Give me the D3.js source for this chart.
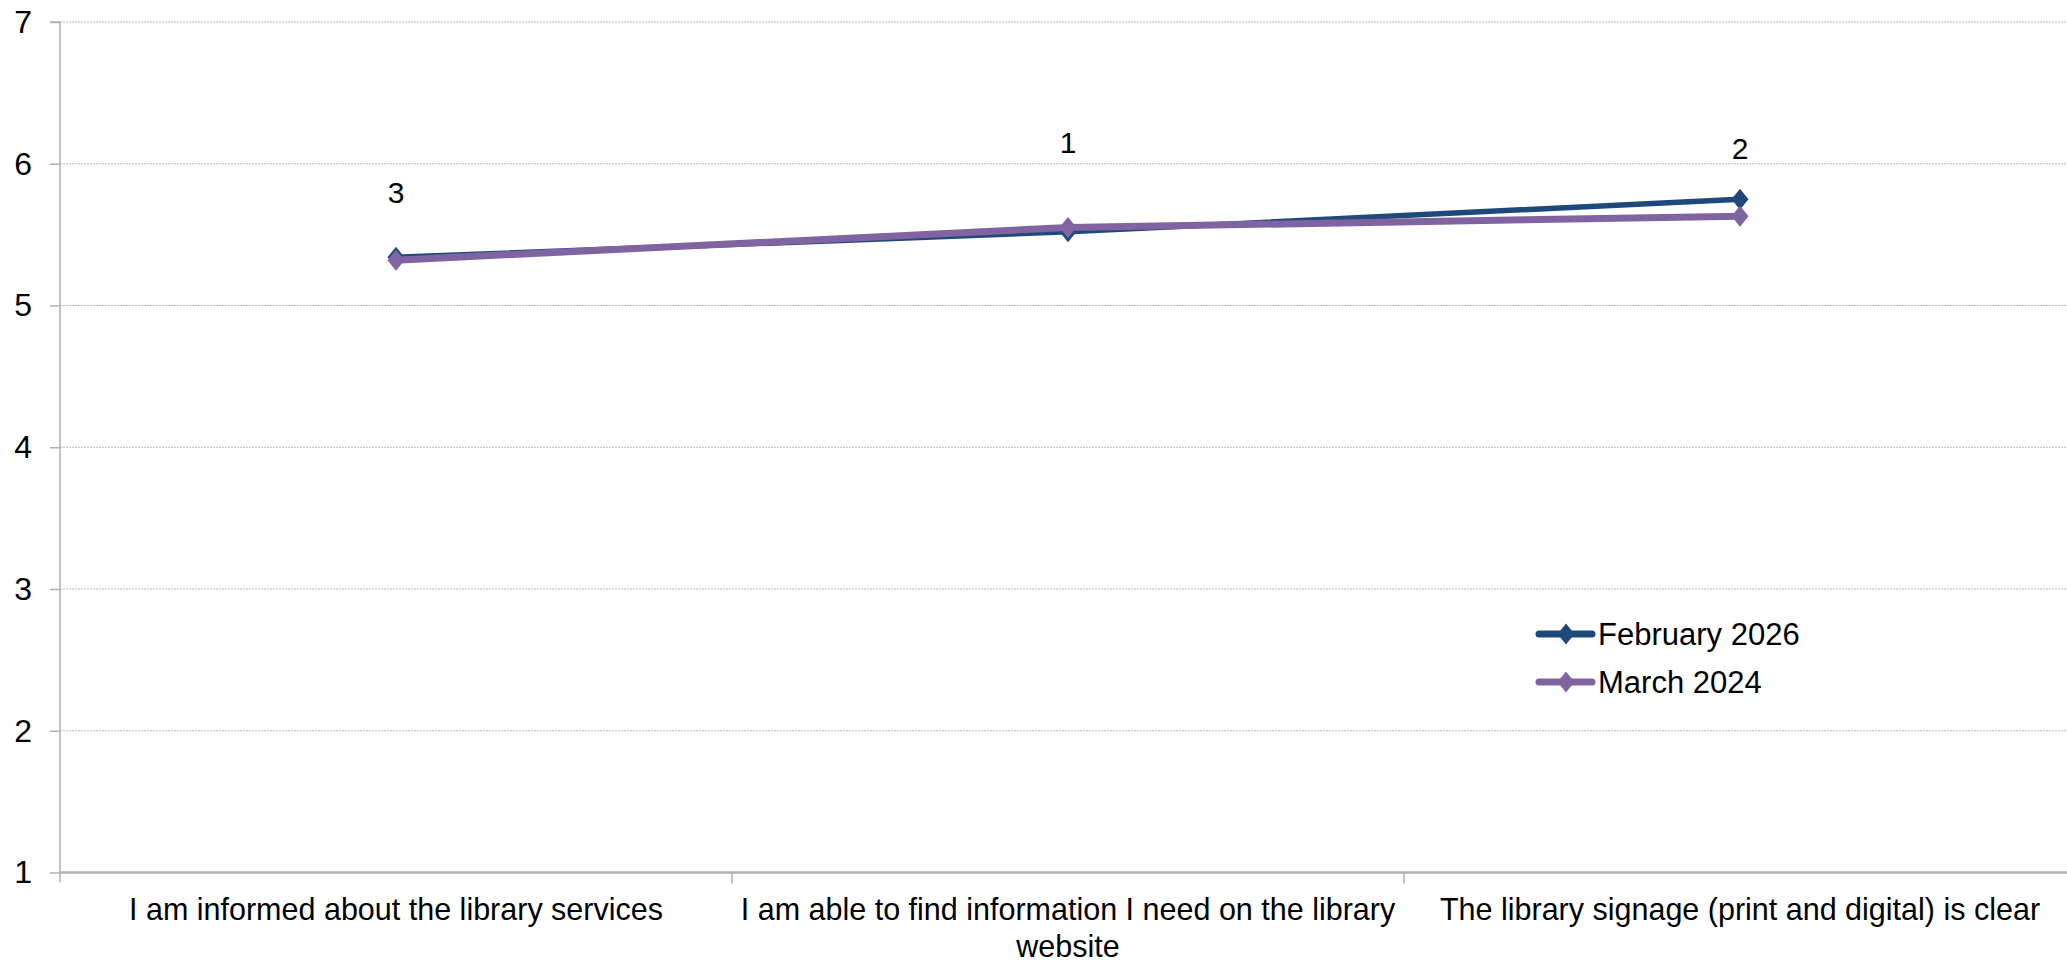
<!DOCTYPE html>
<html>
<head>
<meta charset="utf-8">
<script src="https://cdn.jsdelivr.net/npm/d3@7"></script>
<style>
  html, body { margin: 0; padding: 0; background: #fff; }
  svg { display: block; font-family: "Liberation Sans", Arial, sans-serif; }
</style>
</head>
<body>
<svg id="chart" width="2067" height="962"></svg>
<script>
// ---- Data ----
const categories = [
  "I am informed about the library services",
  "I am able to find information I need on the library website",
  "The library signage (print and digital) is clear"
];
const seriesNames = ["February 2026", "March 2024"];
const feb2026 = [5.34, 5.52, 5.75];
const mar2024 = [5.32, 5.55, 5.63];
const rankLabels = ["3", "1", "2"];
const rankLabelPos = [5.80, 6.15, 6.11];
const yTicks = [1, 2, 3, 4, 5, 6, 7];

const colors = ["#1F497D", "#8064A2"];
const seriesValues = [feb2026, mar2024];

(function () {
// ---- Layout ----
const svg = d3.select("#chart");
const pLeft = 60, pRight = 2076, pTop = 22, pBottom = 872.5;

const x = d3.scaleBand().domain(categories).range([pLeft, pRight]).padding(0);
const y = d3.scaleLinear().domain([1, 7]).range([pBottom, pTop]);

// gridlines
svg.append("g")
  .selectAll("line")
  .data(yTicks.filter(d => d !== 1))
  .join("line")
  .attr("x1", pLeft).attr("x2", 2067)
  .attr("y1", d => y(d)).attr("y2", d => y(d))
  .attr("stroke", "#b8b8b8")
  .attr("stroke-width", 1)
  .attr("stroke-dasharray", "2,1");

// y axis
const yAxis = d3.axisLeft(y).tickValues(yTicks).tickSize(10).tickPadding(18).tickFormat(d3.format("d"));
const gy = svg.append("g").attr("transform", `translate(${pLeft},0)`).call(yAxis);
gy.select(".domain").attr("stroke", "#b0b0b0").attr("stroke-width", 1.5)
  .attr("d", `M-10,${pTop}H0V${pBottom + 10}`);
gy.selectAll(".tick line").attr("stroke", "#b0b0b0").attr("stroke-width", 1.5);
gy.selectAll(".tick text").attr("font-size", 32).attr("fill", "#000")
  .attr("font-family", "Liberation Sans, Arial, sans-serif");

// x axis
const xAxis = d3.axisBottom(x).tickSize(0).tickFormat("");
const gx = svg.append("g").attr("transform", `translate(0,${pBottom})`).call(xAxis);
gx.select(".domain").attr("stroke", "#b0b0b0").attr("stroke-width", 2.5)
  .attr("d", `M${pLeft},0H${pRight}`);
gx.selectAll(".tick").remove();
// category separator ticks
svg.append("g")
  .selectAll("line")
  .data(categories.slice(1))
  .join("line")
  .attr("x1", d => x(d)).attr("x2", d => x(d))
  .attr("y1", pBottom).attr("y2", pBottom + 11)
  .attr("stroke", "#b0b0b0").attr("stroke-width", 1.5);

// category labels with wrapping
const maxW = x.bandwidth() - 4;
const catG = svg.append("g");
categories.forEach(c => {
  const cx = x(c) + x.bandwidth() / 2;
  const t = catG.append("text")
    .attr("x", cx)
    .attr("y", 920)
    .attr("text-anchor", "middle")
    .attr("font-size", 30.5)
    .attr("fill", "#000");
  const words = c.split(" ");
  let line = [];
  let tspan = t.append("tspan").attr("x", cx).attr("dy", 0);
  words.forEach(w => {
    line.push(w);
    tspan.text(line.join(" "));
    if (tspan.node().getComputedTextLength() > maxW && line.length > 1) {
      line.pop();
      tspan.text(line.join(" "));
      line = [w];
      tspan = t.append("tspan").attr("x", cx).attr("dy", 37).text(w);
    }
  });
});

// diamond path
const diamond = (hw, hh) => `M0,${-hh}L${hw},0L0,${hh}L${-hw},0Z`;

// series lines & markers
seriesValues.forEach((vals, i) => {
  const line = d3.line().x((d, j) => x(categories[j]) + x.bandwidth() / 2).y(d => y(d));
  svg.append("path")
    .datum(vals)
    .attr("d", line)
    .attr("fill", "none")
    .attr("stroke", colors[i])
    .attr("stroke-width", i === 0 ? 5.5 : 7)
    .attr("stroke-linejoin", "round");
  svg.append("g")
    .selectAll("path")
    .data(vals)
    .join("path")
    .attr("transform", (d, j) => `translate(${x(categories[j]) + x.bandwidth() / 2},${y(d)})`)
    .attr("d", diamond(8.5, 10.5))
    .attr("fill", colors[i]);
});

// rank labels
svg.append("g")
  .selectAll("text")
  .data(rankLabels)
  .join("text")
  .attr("x", (d, j) => x(categories[j]) + x.bandwidth() / 2)
  .attr("y", (d, j) => y(rankLabelPos[j]) + 11)
  .attr("text-anchor", "middle")
  .attr("font-size", 30)
  .attr("fill", "#000")
  .text(d => d);

// legend
const lg = svg.append("g").attr("transform", "translate(1537,634)");
seriesNames.forEach((n, i) => {
  const g = lg.append("g").attr("transform", `translate(0,${i * 48})`);
  g.append("line").attr("x1", 2).attr("x2", 55).attr("y1", 0).attr("y2", 0)
    .attr("stroke", colors[i]).attr("stroke-width", 7).attr("stroke-linecap", "round");
  g.append("path").attr("transform", "translate(29,0)").attr("d", diamond(8.5, 10.5)).attr("fill", colors[i]);
  g.append("text").attr("x", 61).attr("y", 11).attr("font-size", 31).attr("fill", "#000").text(n);
});
})();
</script>
</body>
</html>
